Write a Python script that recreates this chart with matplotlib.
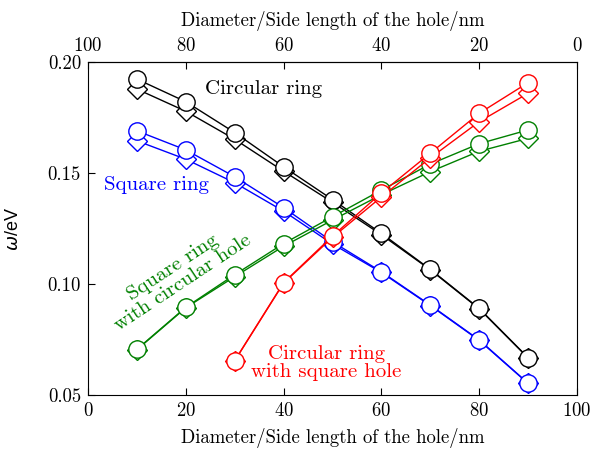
import matplotlib
matplotlib.use("Agg")
import matplotlib.pyplot as plt

plt.rcParams['font.family'] = ['cmr10', 'DejaVu Serif']
plt.rcParams['mathtext.fontset'] = 'cm'
plt.rcParams['axes.formatter.use_mathtext'] = True

x = [10, 20, 30, 40, 50, 60, 70, 80, 90]
x_red = [30, 40, 50, 60, 70, 80, 90]

black_circ = [0.1923, 0.1821, 0.1682, 0.1528, 0.1380, 0.1228, 0.1066, 0.0890, 0.0668]
black_diam = [0.1878, 0.1778, 0.1652, 0.1508, 0.1368, 0.1222, 0.1064, 0.0888, 0.0667]
blue_circ = [0.1690, 0.1604, 0.1483, 0.1344, 0.1190, 0.1055, 0.0905, 0.0748, 0.0553]
blue_diam = [0.1645, 0.1562, 0.1456, 0.1328, 0.1180, 0.1052, 0.0903, 0.0746, 0.0552]
green_circ = [0.0706, 0.0895, 0.1042, 0.1182, 0.1303, 0.1423, 0.1540, 0.1632, 0.1694]
green_diam = [0.0704, 0.0893, 0.1033, 0.1170, 0.1288, 0.1402, 0.1506, 0.1598, 0.1656]
red_circ = [0.0655, 0.1006, 0.1216, 0.1410, 0.1589, 0.1769, 0.1907]
red_diam = [0.0654, 0.1004, 0.1210, 0.1392, 0.1568, 0.1731, 0.1859]

xticks = [0, 20, 40, 60, 80, 100]
yticks = [0.05, 0.10, 0.15, 0.20]

fig = plt.figure(figsize=(5.94, 4.54), dpi=100)
ax = fig.add_axes([88/594, 1-395/454, (577-88)/594, (395-62)/454])

series = [
    (x, black_diam, black_circ, 'black'),
    (x, blue_diam, blue_circ, '#0000ff'),
    (x, green_diam, green_circ, '#008000'),
    (x_red, red_diam, red_circ, '#ff0000'),
]
z = 2
for xs, d, c, col in series:
    ax.plot(xs, d, '-', color=col, lw=1.0, marker='D', ms=10, mfc='white',
            mec=col, mew=1.0, zorder=z)
    ax.plot(xs, c, '-', color=col, lw=1.0, marker='o', ms=12.5, mfc='white',
            mec=col, mew=1.0, zorder=z + 1)
    z += 2

fs = 15
lfs = 13.5
ax.set_xlim(0, 100)
ax.set_ylim(0.05, 0.20)
ax.set_xticks(xticks)
ax.set_yticks(yticks)
ax.set_yticklabels([f'{v:.2f}' for v in yticks])
ax.tick_params(direction='in', labelsize=lfs, length=5, right=False, top=False, pad=5)
ax.set_xlabel('Diameter/Side length of the hole/nm', fontsize=lfs, labelpad=6)
ax.set_ylabel(r'$\omega$/eV', fontsize=13, fontfamily='Liberation Sans',
              math_fontfamily='dejavusans')
ax.yaxis.set_label_coords(-0.135, 0.5)

sec = ax.secondary_xaxis('top', functions=(lambda v: 100 - v, lambda v: 100 - v))
sec.set_xticks(xticks)
sec.tick_params(direction='in', labelsize=lfs, length=5, pad=5)
sec.set_xlabel('Diameter/Side length of the hole/nm', fontsize=lfs, labelpad=8)

ax.text(36, 0.1878, 'Circular ring', color='black', fontsize=fs, ha='center', va='center')
ax.text(14.1, 0.1446, 'Square ring', color='#0000ff', fontsize=fs, ha='center', va='center')
ax.text(18.4, 0.1040, 'Square ring\nwith circular hole', color='#008000', fontsize=fs,
        ha='center', va='center', rotation=33.5, multialignment='center', linespacing=1.0,
        rotation_mode='anchor')
ax.text(48.7, 0.0644, 'Circular ring\nwith square hole', color='#ff0000', fontsize=fs,
        ha='center', va='center', multialignment='center', linespacing=1.0)

fig.savefig('out.png', dpi=100)
